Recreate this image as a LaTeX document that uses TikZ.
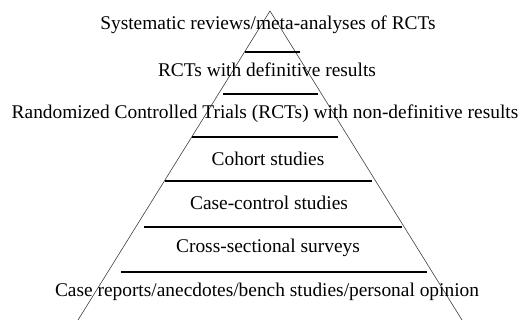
\documentclass[tikz,border=0pt]{standalone}
\usepackage{fontspec}
\setmainfont{Liberation Serif}
\usepackage{xcolor}

\begin{document}
\begin{tikzpicture}[x=1pt,y=-1pt]
\tikzset{
    level/.style={%
        font=\fontsize{19.4}{22}\selectfont,
        inner sep=0pt,
        anchor=center
        },
    bar/.style={%
        draw=black, line width=1.6pt
        },
    side/.style={%
        draw=black!75, line width=0.6pt
        },
}
\useasboundingbox (0,0) rectangle (528,320);
%%%PYRAMID
\coordinate (apex) at (270,11);
\coordinate (bl) at (78,320);
\coordinate (br) at (462,320);
\draw[side] (bl) -- (apex) -- (br);
%%%BARS
\coordinate (b1l) at (245,52);  \coordinate (b1r) at (300,52);
\coordinate (b2l) at (223,94);  \coordinate (b2r) at (318,94);
\coordinate (b3l) at (192,137); \coordinate (b3r) at (338,137);
\coordinate (b4l) at (165,181); \coordinate (b4r) at (372,181);
\coordinate (b5l) at (144,227); \coordinate (b5r) at (402,227);
\coordinate (b6l) at (121,272); \coordinate (b6r) at (427,272);
\draw[bar] (b1l) -- (b1r);
\draw[bar] (b2l) -- (b2r);
\draw[bar] (b3l) -- (b3r);
\draw[bar] (b4l) -- (b4r);
\draw[bar] (b5l) -- (b5r);
\draw[bar] (b6l) -- (b6r);
%%%LEVELS
\node[level] (sys) at (268,25) {Systematic reviews/meta-analyses of RCTs};
\node[level] (rctdef) at (267,70) {RCTs with definitive results};
\node[level] (rctnon) at (265,114) {Randomized Controlled Trials (RCTs) with non-definitive results};
\node[level] (cohort) at (268,159) {Cohort studies};
\node[level] (casectl) at (269,203) {Case-control studies};
\node[level] (cross) at (268,248) {Cross-sectional surveys};
\node[level] (caserep) at (267,292) {Case reports/anecdotes/bench studies/personal opinion};
\end{tikzpicture}
\end{document}
